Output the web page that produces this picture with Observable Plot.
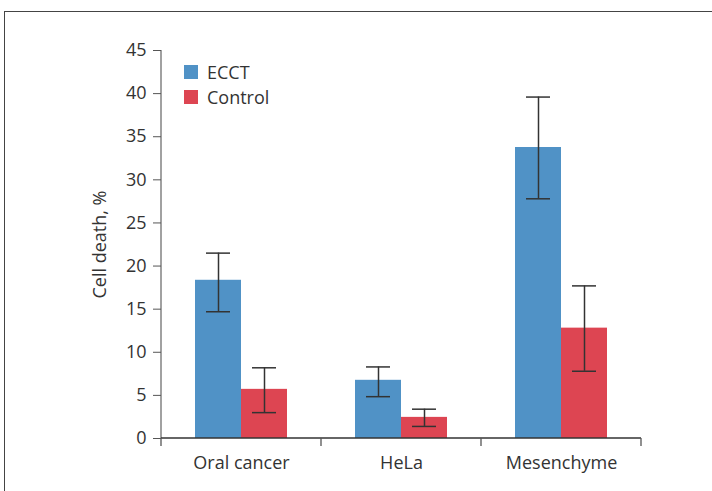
<!DOCTYPE html>
<html>
<head>
<meta charset="utf-8">
<script src="https://cdn.jsdelivr.net/npm/d3@7"></script>
<script src="https://cdn.jsdelivr.net/npm/@observablehq/plot@0.6"></script>
<style>
  html, body { margin: 0; padding: 0; background: #fff; }
  #wrap { position: relative; width: 712px; height: 491px; overflow: hidden; font-family: "Open Sans", sans-serif; }
  #border { position: absolute; left: 4px; top: 11px; width: 800px; height: 600px; border-top: 1.5px solid #444; border-left: 1.5px solid #444; box-sizing: border-box; }
  #legend { position: absolute; left: 184px; top: 60px; }
  #chart { position: absolute; left: 0; top: 0; }
</style>
</head>
<body>
<div id="wrap">
  <div id="border"></div>
  <div id="chart"></div>
  <div id="legend"></div>
</div>
<script>
// ---- data ----
const categories = ["Oral cancer", "HeLa", "Mesenchyme"];
const groups = ["ECCT", "Control"];
const ecctValues = [18.35, 6.75, 33.75];
const ecctLow = [14.7, 4.85, 27.8];
const ecctHigh = [21.5, 8.3, 39.6];
const controlValues = [5.7, 2.45, 12.8];
const controlLow = [3.0, 1.4, 7.8];
const controlHigh = [8.2, 3.4, 17.7];
const yTicks = [0, 5, 10, 15, 20, 25, 30, 35, 40, 45];
const colors = ["#5092c6", "#dd4552"];

const rows = [];
categories.forEach((c, i) => {
  rows.push({category: c, group: "ECCT", value: ecctValues[i], low: ecctLow[i], high: ecctHigh[i]});
  rows.push({category: c, group: "Control", value: controlValues[i], low: controlLow[i], high: controlHigh[i]});
});

// axis lines and category boundary ticks, drawn once over the whole plot
const axisDecor = Plot.frame({
  facet: "super",
  render(index, scales, values, dimensions) {
    const {fx} = scales;
    const {width, height, marginLeft, marginRight, marginTop, marginBottom} = dimensions;
    const g = d3.create("svg:g").attr("fill", "none");
    const bw = fx.bandwidth();
    const edges = categories.map(c => fx(c)).concat([fx(categories[categories.length - 1]) + bw]);
    const y0 = height - marginBottom;
    g.append("line")
      .attr("stroke", "#8a8a8a").attr("stroke-width", 1.6)
      .attr("x1", marginLeft).attr("x2", marginLeft)
      .attr("y1", marginTop).attr("y2", y0);
    g.append("line")
      .attr("stroke", "#333").attr("stroke-width", 1.5)
      .attr("x1", marginLeft).attr("x2", width - marginRight)
      .attr("y1", y0).attr("y2", y0);
    g.selectAll("line.b").data(edges).join("line").attr("class", "b")
      .attr("stroke", "#555").attr("stroke-width", 1.3)
      .attr("x1", d => d).attr("x2", d => d)
      .attr("y1", y0).attr("y2", y0 + 8);
    return g.node();
  }
});

const chart = Plot.plot({
  width: 712,
  height: 491,
  marginLeft: 160,
  marginRight: 70,
  marginTop: 50,
  marginBottom: 53,
  style: {fontFamily: "'Open Sans', sans-serif", fontSize: "18px", color: "#333", background: "transparent"},
  fx: {domain: categories, padding: 0, label: null, axis: null},
  x: {domain: groups, paddingInner: 0, paddingOuter: 0.71, axis: null},
  y: {domain: [0, 45], axis: null},
  color: {domain: groups, range: colors},
  marks: [
    Plot.barY(rows, {fx: "category", x: "group", y: "value", fill: "group"}),
    Plot.ruleX(rows, {fx: "category", x: "group", y1: "low", y2: "high", stroke: "#333", strokeWidth: 1.5}),
    Plot.tickY(rows, {fx: "category", x: "group", y: "low", stroke: "#333", strokeWidth: 1.5, insetLeft: 11, insetRight: 11}),
    Plot.tickY(rows, {fx: "category", x: "group", y: "high", stroke: "#333", strokeWidth: 1.5, insetLeft: 11, insetRight: 11}),
    axisDecor,
    Plot.axisY({ticks: yTicks, tickSize: 8, tickPadding: 7, stroke: "#555", label: "Cell death, %", labelAnchor: "center", labelOffset: 68, labelArrow: "none", fill: "#333"}),
    Plot.axisFx({anchor: "bottom", tickSize: 0, tickPadding: 18, label: null, fill: "#333"})
  ]
});
document.getElementById("chart").appendChild(chart);

const legend = chart.legend("color", {columns: 1, swatchSize: 14, style: {fontFamily: "'Open Sans', sans-serif", fontSize: "18px", color: "#333"}});
document.getElementById("legend").appendChild(legend);
</script>
</body>
</html>
